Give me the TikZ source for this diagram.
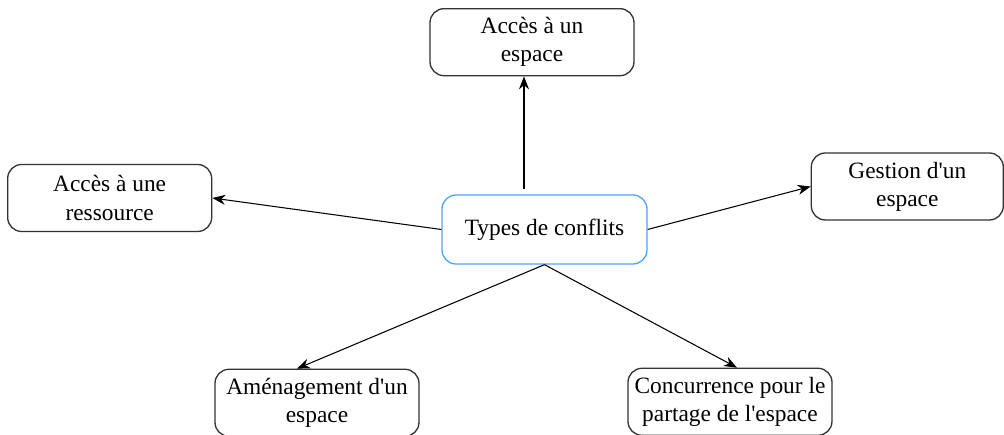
\documentclass[tikz,border=0pt]{standalone}
\usepackage{fontspec}
\setmainfont{Liberation Serif}
\usepackage{tikz}
\usetikzlibrary{positioning, arrows.meta}
\usepackage{xcolor}
\definecolor{boxline}{HTML}{333333}
\definecolor{boxblue}{HTML}{4DA3FF}
\tikzstyle{conflit} = [
rectangle,
rounded corners=0.28cm,
minimum width=4.08cm,
minimum height=1.34cm,
align=center,
line width=0.75pt,
draw=boxline,
font=\fontsize{13.3}{16}\selectfont
]
\tikzstyle{centre} = [
conflit,
minimum width=4.1cm,
minimum height=1.38cm,
draw=boxblue
]
\tikzstyle{arrow}=[-{Stealth[length=2.6mm,width=2mm]},line width=0.6pt]

\begin{document}
\begin{tikzpicture}
        \useasboundingbox (-10.89,-4.11) rectangle (9.19,4.59);
        \clip (-10.89,-4.11) rectangle (9.19,4.59);
        
        \node (types) [centre] at (0,0) {Types de conflits};
        
        \node (acces) [conflit, above=2.36cm of types, xshift=-0.25cm]
        {Accès à un\\espace};
        
        \node (ressource) [conflit, left=4.58cm of types, yshift=0.63cm]
        {Accès à une\\ressource};
        
        \node (gestion) [conflit, minimum width=3.84cm, right=3.26cm of types, yshift=0.86cm]
        {Gestion d\textquotesingle un\\espace};
        
        \node (amenag) [conflit, below=2.08cm of types, xshift=-4.55cm]
        {Aménagement d\textquotesingle un\\espace};
        
        \node (partage) [conflit, below=2.06cm of types, xshift=3.71cm]
        {Concurrence pour le\\partage de l\textquotesingle espace};
        
        \coordinate (haut) at ([xshift=-0.41cm,yshift=0.1cm]types.north);
        
        \draw [arrow, line width=0.8pt] (haut)--(haut |- acces.south);
        
        \draw [arrow] (types.west)--(ressource.east);
        
        \draw [arrow] (types.east)--(gestion.west);
        
        \draw [arrow] (types.south)--([xshift=-0.4cm]amenag.north);
        
        \draw [arrow] (types.south)--([xshift=0.14cm]partage.north);
        
\end{tikzpicture}
\end{document}
